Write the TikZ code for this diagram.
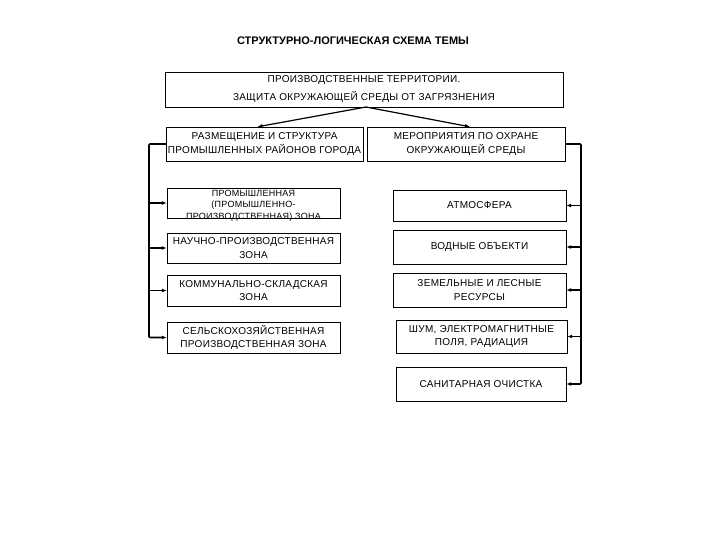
\documentclass[tikz,border=0pt]{standalone}
\usepackage{fontspec}
\setmainfont{Liberation Sans}
\newfontfamily\widefont[LetterSpace=3]{Liberation Sans}
\usetikzlibrary{positioning,arrows.meta}

\begin{document}
\begin{tikzpicture}[x=1pt,y=-1pt]
  % стили
  \tikzset{box/.style = {draw, thin, align=center, inner sep=1pt, font=\widefont\fontsize{10}{13.5}\selectfont}}
  \tikzset{zone/.style = {box, minimum width=173pt, minimum height=31pt}}
  \tikzset{bus/.style = {draw, line width=1.6pt, rounded corners=1pt}}
  \tikzset{arr/.style = {bus, -{Latex[length=5pt,width=4pt]}}}

  \useasboundingbox (0,0) rectangle (720,540);

  % заголовок
  \node[font=\fontsize{11}{13}\selectfont\bfseries] (title) at (353,41) {СТРУКТУРНО-ЛОГИЧЕСКАЯ СХЕМА ТЕМЫ};

  % верхний блок
  \node[box, minimum width=398pt, minimum height=35pt, font=\widefont\fontsize{10}{18}\selectfont] (top) at (364,89.5)
    {ПРОИЗВОДСТВЕННЫЕ ТЕРРИТОРИИ.\\ЗАЩИТА ОКРУЖАЮЩЕЙ СРЕДЫ ОТ ЗАГРЯЗНЕНИЯ};

  % второй уровень
  \node[box, minimum width=197pt, minimum height=34pt] (razm) at (264.5,144)
    {РАЗМЕЩЕНИЕ И СТРУКТУРА\\ПРОМЫШЛЕННЫХ РАЙОНОВ ГОРОДА};
  \node[box, minimum width=198pt, minimum height=34pt] (mer) at (466,144)
    {МЕРОПРИЯТИЯ ПО ОХРАНЕ\\ОКРУЖАЮЩЕЙ СРЕДЫ};

  % зоны
  \node[zone, minimum height=30pt,
    label={[yshift=-2.5pt, align=center, font=\widefont\fontsize{9}{11.5}\selectfont]center:{ПРОМЫШЛЕННАЯ\\(ПРОМЫШЛЕННО-\\ПРОИЗВОДСТВЕННАЯ) ЗОНА}}] (z1) at (253.5,203) {};
  \node[zone, minimum height=30pt] (z2) at (253.5,248) {НАУЧНО-ПРОИЗВОДСТВЕННАЯ\\ЗОНА};
  \node[zone] (z3) at (253.5,290.5) {КОММУНАЛЬНО-СКЛАДСКАЯ\\ЗОНА};
  \node[zone] (z4) at (253.5,337.5) {СЕЛЬСКОХОЗЯЙСТВЕННАЯ\\ПРОИЗВОДСТВЕННАЯ ЗОНА};

  % мероприятия
  \node[zone] (m1) at (479.5,205.5) {АТМОСФЕРА};
  \node[zone, minimum height=34pt] (m2) at (479.5,247) {ВОДНЫЕ ОБЪЕКТИ};
  \node[zone, minimum height=34pt] (m3) at (479.5,290) {ЗЕМЕЛЬНЫЕ И ЛЕСНЫЕ\\РЕСУРСЫ};
  \node[zone, minimum height=33pt, minimum width=171pt] (m4) at (481.5,336.5) {ШУМ, ЭЛЕКТРОМАГНИТНЫЕ\\ПОЛЯ, РАДИАЦИЯ};
  \node[zone, minimum height=34pt, minimum width=170pt] (m5) at (481,384) {САНИТАРНАЯ ОЧИСТКА};

  % точки поворота
  \coordinate (fork) at (366,107);
  \coordinate (lcorner) at (149,144);
  \coordinate (rcorner) at (581,144);

  % стрелки сверху
  \draw[arr, line width=1.2pt] (fork) -- ([xshift=-7pt]razm.north);
  \draw[arr, line width=1.2pt] (fork) -- ([xshift=4pt]mer.north);

  % левая шина
  \draw[arr] (razm.west) -- (lcorner) |- (z4.west);
  \draw[arr] (lcorner |- z1.west) -- (z1.west);
  \draw[arr] (lcorner |- z2.west) -- (z2.west);
  \draw[arr] (lcorner |- z3.west) -- (z3.west);

  % правая шина
  \draw[arr] (mer.east) -- (rcorner) |- (m5.east);
  \draw[arr] (rcorner |- m1.east) -- (m1.east);
  \draw[arr] (rcorner |- m2.east) -- (m2.east);
  \draw[arr] (rcorner |- m3.east) -- (m3.east);
  \draw[arr] (rcorner |- m4.east) -- (m4.east);
\end{tikzpicture}
\end{document}
